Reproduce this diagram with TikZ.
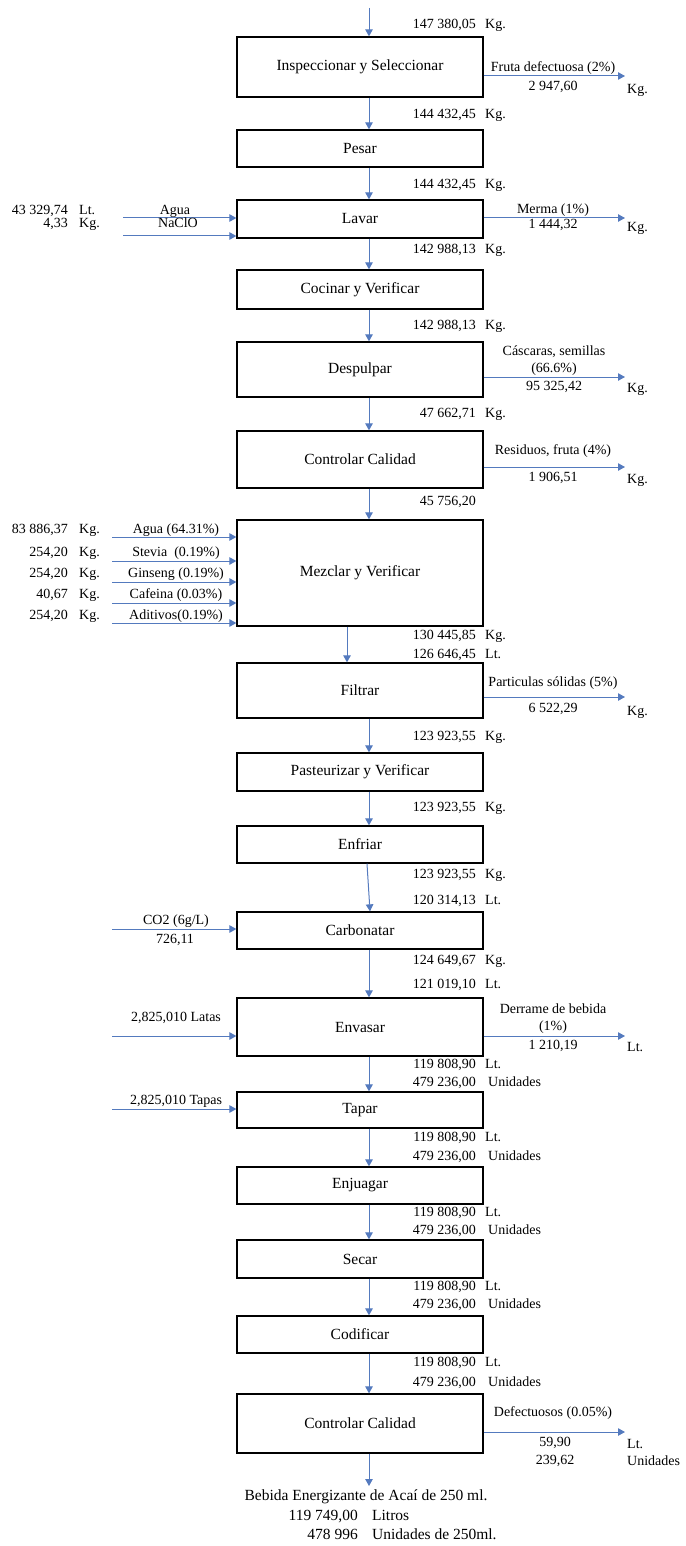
\documentclass[tikz,border=0pt]{standalone}
\usepackage{fontspec}
\setmainfont{Liberation Serif}
\usetikzlibrary{arrows.meta}
\definecolor{flowc}{RGB}{84,122,190}
\tikzset{
  box/.style={draw=black, line width=1.3pt, minimum width=246pt, inner sep=0pt, font=\fontsize{15.5}{17}\selectfont},
  flow/.style={draw=flowc, line width=1pt, -{Triangle[length=7pt,width=7.5pt]}},
  lbl/.style={inner sep=0pt, font=\fontsize{14}{16}\selectfont, text height=10pt, text depth=3pt},
  biglbl/.style={inner sep=0pt, font=\fontsize{15.5}{17}\selectfont, text height=10.5pt, text depth=3.5pt},
}
\newcommand\fl[4]{%
  \node[lbl,anchor=east] (#1n) at (476,#2) {#3};
  \node[lbl,anchor=west] (#1u) at (485,#2) {#4};}
\newcommand\lf[4]{%
  \node[lbl,anchor=east] (#1n) at (68,#2) {#3};
  \node[lbl,anchor=west] (#1u) at (79,#2) {#4};}
\newcommand\mixin[6]{%
  \coordinate (#1) at (112,#2);
  \draw[flow] (#1) -- (b7.west |- #1);
  \node[lbl] (#1t) at (176,#3) {#4};
  \node[lbl,anchor=east] (#1n) at (68,#3) {#5};
  \node[lbl,anchor=west] (#1u) at (79,#3) {#6};}
\begin{document}
\begin{tikzpicture}[x=1pt,y=-1pt]
\useasboundingbox (0,0) rectangle (685,1546);
\coordinate (ax) at (369,0);
\coordinate (axm) at (347,0);

% boxes
\node[box, minimum height=60pt]  (b1)  at (360,67)     {Inspeccionar y Seleccionar};
\node[box, minimum height=37pt]  (b2)  at (360,148.5)  {Pesar};
\node[box, minimum height=38pt]  (b3)  at (360,219)    {Lavar};
\node[box, minimum height=39pt]  (b4)  at (360,289.5)  {Cocinar y Verificar};
\node[box, minimum height=55pt]  (b5)  at (360,369.5)  {Despulpar};
\node[box, minimum height=57pt]  (b6)  at (360,459.5)  {Controlar Calidad};
\node[box, minimum height=106pt] (b7)  at (360,573)    {Mezclar y Verificar};
\node[box, minimum height=55pt]  (b8)  at (360,690.5)  {Filtrar};
\node[box, minimum height=38pt]  (b9)  at (360,772)    {Pasteurizar y Verificar};
\node[box, minimum height=37pt]  (b10) at (360,844.5)  {Enfriar};
\node[box, minimum height=37pt]  (b11) at (360,930.5)  {Carbonatar};
\node[box, minimum height=58pt]  (b12) at (360,1027)   {Envasar};
\node[box, minimum height=36pt]  (b13) at (360,1110)   {Tapar};
\node[box, minimum height=37pt]  (b14) at (360,1185.5) {Enjuagar};
\node[box, minimum height=38pt]  (b15) at (360,1259)   {Secar};
\node[box, minimum height=37pt]  (b16) at (360,1334.5) {Codificar};
\node[box, minimum height=59pt]  (b17) at (360,1423.5) {Controlar Calidad};

% main vertical flow
\coordinate (top) at (369,8);
\coordinate (end) at (369,1486);
\draw[flow] (top) -- (b1.north -| top);
\foreach \a/\b in {b1/b2,b2/b3,b3/b4,b4/b5,b5/b6,b6/b7,b8/b9,b9/b10,b11/b12,b12/b13,b13/b14,b14/b15,b15/b16,b16/b17}
  \draw[flow] (\a.south -| ax) -- (\b.north -| ax);
\draw[flow] (b7.south -| axm) -- (b8.north -| axm);
\draw[flow] ([xshift=7pt]b10.south) -- ([xshift=10pt]b11.north);
\draw[flow] (b17.south -| end) -- (end);

% flow labels
\fl{f0}{25}{147 380,05}{Kg.}
\fl{f1}{115}{144 432,45}{Kg.}
\fl{f2}{185}{144 432,45}{Kg.}
\fl{f3}{250}{142 988,13}{Kg.}
\fl{f4}{326}{142 988,13}{Kg.}
\fl{f5}{414}{47 662,71}{Kg.}
\node[lbl,anchor=east] (f5b) at (476,502) {45 756,20};
\fl{f6}{636}{130 445,85}{Kg.}
\fl{f7}{655}{126 646,45}{Lt.}
\fl{f8}{737}{123 923,55}{Kg.}
\fl{f9}{808}{123 923,55}{Kg.}
\fl{f10}{875}{123 923,55}{Kg.}
\fl{f11}{901}{120 314,13}{Lt.}
\fl{f12}{961}{124 649,67}{Kg.}
\fl{f13}{985}{121 019,10}{Lt.}
\fl{f14}{1065}{119 808,90}{Lt.}
\fl{f15}{1083}{479 236,00}{\hspace{3pt}Unidades}
\fl{f16}{1138}{119 808,90}{Lt.}
\fl{f17}{1157}{479 236,00}{\hspace{3pt}Unidades}
\fl{f18}{1213}{119 808,90}{Lt.}
\fl{f19}{1231}{479 236,00}{\hspace{3pt}Unidades}
\fl{f20}{1287}{119 808,90}{Lt.}
\fl{f21}{1305}{479 236,00}{\hspace{3pt}Unidades}
\fl{f22}{1363}{119 808,90}{Lt.}
\fl{f23}{1383}{479 236,00}{\hspace{3pt}Unidades}

% outputs (right)
\coordinate (o1) at (625,76);
\draw[flow] (b1.east |- o1) -- (o1);
\node[lbl] (o1a) at (553,68) {Fruta defectuosa (2\%)};
\node[lbl] (o1b) at (553,87) {2 947,60};
\node[lbl,anchor=west] (o1c) at (627,90) {Kg.};

\coordinate (o3) at (625,218);
\draw[flow] (b3.east |- o3) -- (o3);
\node[lbl] (o3a) at (553,210) {Merma (1\%)};
\node[lbl] (o3b) at (553,225) {1 444,32};
\node[lbl,anchor=west] (o3c) at (627,228) {Kg.};

\coordinate (o5) at (625,377);
\draw[flow] (b5.east |- o5) -- (o5);
\node[lbl] (o5a) at (554,352) {Cáscaras, semillas};
\node[lbl] (o5d) at (554,369) {(66.6\%)};
\node[lbl] (o5b) at (554,387) {95 325,42};
\node[lbl,anchor=west] (o5c) at (627,389) {Kg.};

\coordinate (o6) at (625,467);
\draw[flow] (b6.east |- o6) -- (o6);
\node[lbl] (o6a) at (553,451) {Residuos, fruta (4\%)};
\node[lbl] (o6b) at (553,478) {1 906,51};
\node[lbl,anchor=west] (o6c) at (627,480) {Kg.};

\coordinate (o8) at (625,697);
\draw[flow] (b8.east |- o8) -- (o8);
\node[lbl] (o8a) at (553,683) {Particulas sólidas (5\%)};
\node[lbl] (o8b) at (553,709) {6 522,29};
\node[lbl,anchor=west] (o8c) at (627,712) {Kg.};

\coordinate (o12) at (625,1036);
\draw[flow] (b12.east |- o12) -- (o12);
\node[lbl] (o12a) at (553,1010) {Derrame de bebida};
\node[lbl] (o12d) at (553,1027) {(1\%)};
\node[lbl] (o12b) at (553,1046) {1 210,19};
\node[lbl,anchor=west] (o12c) at (627,1048) {Lt.};

\coordinate (o17) at (625,1432);
\draw[flow] (b17.east |- o17) -- (o17);
\node[lbl] (o17a) at (553,1413) {Defectuosos (0.05\%)};
\node[lbl] (o17b) at (555,1443) {59,90};
\node[lbl] (o17d) at (555,1461) {239,62};
\node[lbl,anchor=west] (o17c) at (627,1445) {Lt.};
\node[lbl,anchor=west] (o17e) at (627,1462) {Unidades};

% inputs (left) - Lavar
\coordinate (i3a) at (123,218);
\coordinate (i3b) at (123,236);
\draw[flow] (i3a) -- (b3.west |- i3a);
\draw[flow] (i3b) -- (b3.west |- i3b);
\node[lbl] (i3at) at (175,211) {Agua};
\node[lbl] (i3bt) at (178,224) {NaClO};
\lf{i3an}{211}{43 329,74}{Lt.}
\lf{i3bn}{224}{4,33}{Kg.}

% inputs - Mezclar
\mixin{m1}{537}{530}{Agua (64.31\%)}{83 886,37}{Kg.}
\mixin{m2}{561}{553}{Stevia\ \ (0.19\%)}{254,20}{Kg.}
\mixin{m3}{582}{574}{Ginseng (0.19\%)}{254,20}{Kg.}
\mixin{m4}{603}{595}{Cafeina (0.03\%)}{40,67}{Kg.}
\mixin{m5}{623}{616}{Aditivos(0.19\%)}{254,20}{Kg.}

% CO2
\coordinate (i11) at (112,929);
\draw[flow] (i11) -- (b11.west |- i11);
\node[lbl] (i11a) at (176,921) {CO2 (6g/L)};
\node[lbl] (i11b) at (175,940) {726,11};

% Latas
\coordinate (i12) at (112,1036);
\draw[flow] (i12) -- (b12.west |- i12);
\node[lbl] (i12a) at (176,1018) {2,825,010 Latas};

% Tapas
\coordinate (i13) at (112,1109);
\draw[flow] (i13) -- (b13.west |- i13);
\node[lbl] (i13a) at (176,1101) {2,825,010 Tapas};

% final product
\node[biglbl] (p1) at (366,1497) {Bebida Energizante de Acaí de 250 ml.};
\node[biglbl,anchor=east] (p2n) at (358,1517) {119 749,00};
\node[biglbl,anchor=west] (p2u) at (372,1517) {Litros};
\node[biglbl,anchor=east] (p3n) at (358,1536) {478 996};
\node[biglbl,anchor=west] (p3u) at (372,1536) {Unidades de 250ml.};
\end{tikzpicture}
\end{document}
